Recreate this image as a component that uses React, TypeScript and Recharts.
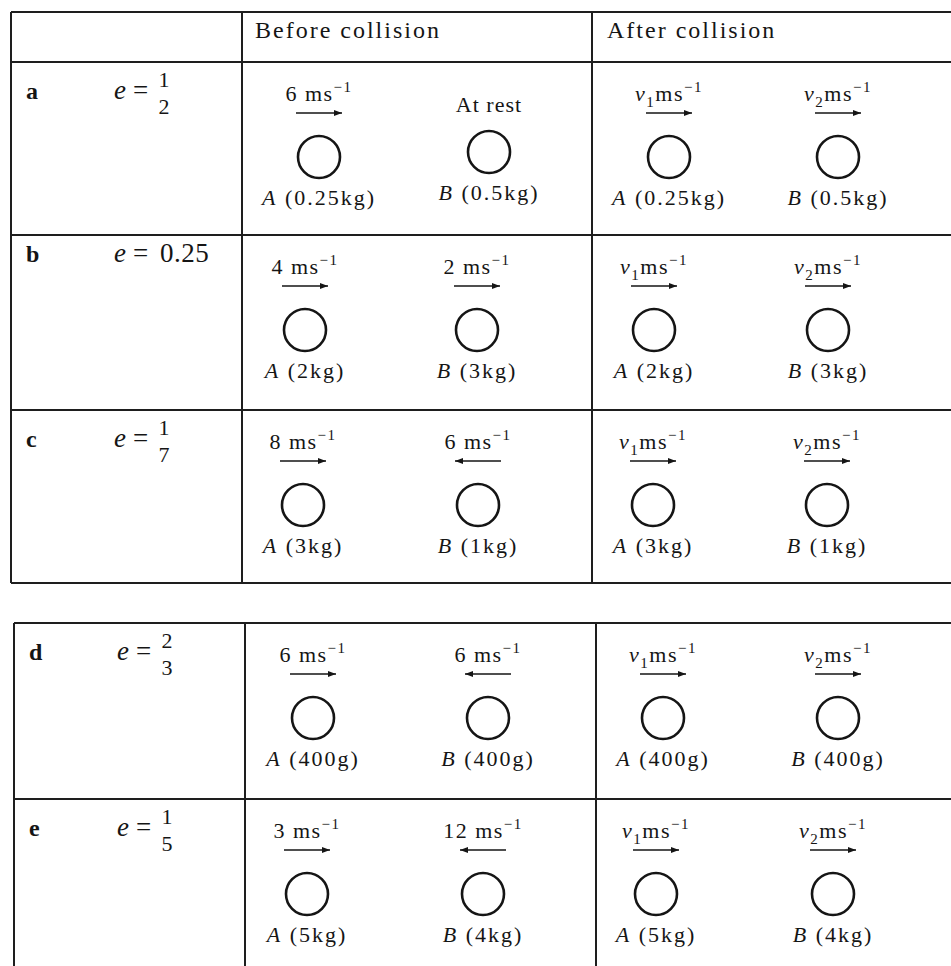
import React from 'react';
import { ScatterChart, Scatter, XAxis, YAxis, ReferenceLine } from 'recharts';

// ---------- data ----------
const ROW_LABELS = ['a', 'b', 'c', 'd', 'e'];
const E_VALUES = ['1/2', '0.25', '1/7', '2/3', '1/5'];
const SPEED_A = [6, 4, 8, 6, 3]; // m s^-1, positive = to the right
const SPEED_B = [0, 2, -6, -6, -12]; // 0 = at rest, negative = to the left
const MASS_A = ['0.25kg', '2kg', '3kg', '400g', '5kg'];
const MASS_B = ['0.5kg', '3kg', '1kg', '400g', '4kg'];
const AFTER_SPEEDS = ['1', '2']; // v1, v2 (unknown, to the right)
const HEADERS = ['Before collision', 'After collision'];

// ---------- layout ----------
const W = 951;
const H = 966;
const FONT = '"Liberation Serif", "Times New Roman", serif';
const INK = '#151515';
const ROW_TOP = [62, 235, 410, 623, 799];
const ROW_TABLE = [0, 0, 0, 1, 1];
const TABLE_LEFT = [11, 14];
const TABLE_COLS = [
  [242, 592],
  [245, 596],
];
const TABLE_TOP = [12, 623];
const TABLE_BOTTOM = [583, 966];
const TABLE_HLINES = [
  [12, 62, 235, 410, 583],
  [623, 799],
];
const BALL_X = [
  [319, 489, 669, 838],
  [305, 477, 654, 828],
  [303, 478, 653, 827],
  [313, 488, 663, 838],
  [307, 483, 656, 833],
];
const HEADER_X = [255, 607];
const HEADER_Y = 38;

// ---------- derived point sets ----------
type Ball = {
  x: number;
  y: number;
  name: string;
  mass: string;
  speed: number | null;
  sub: string | null;
};

const balls: Ball[] = [];
ROW_LABELS.forEach((_, r) => {
  const cy = ROW_TOP[r] + 95;
  balls.push({ x: BALL_X[r][0], y: cy, name: 'A', mass: MASS_A[r], speed: SPEED_A[r], sub: null });
  balls.push({ x: BALL_X[r][1], y: SPEED_B[r] === 0 ? cy - 5 : cy, name: 'B', mass: MASS_B[r], speed: SPEED_B[r], sub: null });
  balls.push({ x: BALL_X[r][2], y: cy, name: 'A', mass: MASS_A[r], speed: null, sub: AFTER_SPEEDS[0] });
  balls.push({ x: BALL_X[r][3], y: cy, name: 'B', mass: MASS_B[r], speed: null, sub: AFTER_SPEEDS[1] });
});

const rowPoints = ROW_LABELS.map((label, r) => {
  const isFrac = E_VALUES[r].includes('/');
  return {
    x: TABLE_LEFT[ROW_TABLE[r]],
    y: ROW_TOP[r] + (isFrac ? 37 : 27),
    label,
    e: E_VALUES[r],
  };
});

const headerPoints = HEADERS.map((h, i) => ({ x: HEADER_X[i], y: HEADER_Y, text: h }));

const segments: { x1: number; y1: number; x2: number; y2: number }[] = [];
[0, 1].forEach((t) => {
  TABLE_HLINES[t].forEach((y) => segments.push({ x1: TABLE_LEFT[t], y1: y, x2: W, y2: y }));
  [TABLE_LEFT[t], ...TABLE_COLS[t]].forEach((x) =>
    segments.push({ x1: x, y1: TABLE_TOP[t], x2: x, y2: TABLE_BOTTOM[t] })
  );
});

// ---------- marks ----------
const Arrow = ({ cx, y, dir }: { cx: number; y: number; dir: number }) => {
  const half = 23;
  const x1 = cx - half;
  const x2 = cx + half;
  const tip = dir > 0 ? x2 : x1;
  const back = dir > 0 ? tip - 8 : tip + 8;
  return (
    <g>
      <line x1={x1} y1={y} x2={x2} y2={y} stroke={INK} strokeWidth={1.6} />
      <polygon points={`${tip},${y} ${back},${y - 3} ${back},${y + 3}`} fill={INK} />
    </g>
  );
};

const BallMark = (props: any) => {
  const { cx, cy, payload } = props;
  if (cx == null || cy == null) return null;
  const b: Ball = payload;
  let label: React.ReactNode;
  if (b.speed === 0) {
    label = (
      <text x={cx} y={cy - 40} textAnchor="middle" fontSize={22} letterSpacing={1} fill={INK} fontFamily={FONT}>
        At rest
      </text>
    );
  } else if (b.speed != null) {
    label = (
      <text x={cx} y={cy - 56} textAnchor="middle" fontSize={22} letterSpacing={1.5} fill={INK} fontFamily={FONT}>
        {`${Math.abs(b.speed)} ms`}
        <tspan dy={-9} fontSize={15}>
          −1
        </tspan>
      </text>
    );
  } else {
    label = (
      <text x={cx} y={cy - 56} textAnchor="middle" fontSize={22} letterSpacing={1.5} fill={INK} fontFamily={FONT}>
        <tspan fontStyle="italic">v</tspan>
        <tspan dy={6} fontSize={15}>
          {b.sub}
        </tspan>
        <tspan dy={-6}>ms</tspan>
        <tspan dy={-9} fontSize={15}>
          −1
        </tspan>
      </text>
    );
  }
  const dir = b.speed == null ? 1 : b.speed;
  return (
    <g>
      {label}
      {b.speed !== 0 && <Arrow cx={cx} y={cy - 44} dir={dir} />}
      <circle cx={cx} cy={cy} r={21} fill="none" stroke={INK} strokeWidth={2.6} />
      <text x={cx} y={cy + 48} textAnchor="middle" fontSize={22} letterSpacing={2} fill={INK} fontFamily={FONT}>
        <tspan fontStyle="italic">{b.name}</tspan>
        {` (${b.mass})`}
      </text>
    </g>
  );
};

const RowMark = (props: any) => {
  const { cx, cy, payload } = props;
  if (cx == null || cy == null) return null;
  const parts = String(payload.e).split('/');
  return (
    <g fill={INK} fontFamily={FONT}>
      <text x={cx + 15} y={cy} fontSize={24} fontWeight="bold">
        {payload.label}
      </text>
      <text x={cx + 103} y={cy} fontSize={27} fontStyle="italic">
        e
      </text>
      <text x={cx + 122} y={cy} fontSize={27}>
        =
      </text>
      {parts.length === 2 ? (
        <g>
          <text x={cx + 153} y={cy - 12} fontSize={22} textAnchor="middle">
            {parts[0]}
          </text>
          <text x={cx + 153} y={cy + 15} fontSize={22} textAnchor="middle">
            {parts[1]}
          </text>
        </g>
      ) : (
        <text x={cx + 149} y={cy} fontSize={27} letterSpacing={0.5}>
          {payload.e}
        </text>
      )}
    </g>
  );
};

const HeaderMark = (props: any) => {
  const { cx, cy, payload } = props;
  if (cx == null || cy == null) return null;
  return (
    <text x={cx} y={cy} fontSize={24} letterSpacing={2} fill={INK} fontFamily={FONT}>
      {payload.text}
    </text>
  );
};

export default function App() {
  return (
    <div style={{ position: 'absolute', left: 0, top: 0, width: W, height: H, background: '#fff' }}>
      <ScatterChart width={W} height={H} margin={{ top: 0, right: 0, bottom: 0, left: 0 }}>
        <XAxis type="number" dataKey="x" domain={[0, W]} hide allowDataOverflow />
        <YAxis type="number" dataKey="y" domain={[0, H]} reversed hide allowDataOverflow />
        {segments.map((s, i) => (
          <ReferenceLine
            key={i}
            segment={[
              { x: s.x1, y: s.y1 },
              { x: s.x2, y: s.y2 },
            ]}
            stroke="#1e1e1e"
            strokeWidth={2}
            ifOverflow="visible"
          />
        ))}
        <Scatter data={headerPoints} shape={HeaderMark} isAnimationActive={false} />
        <Scatter data={rowPoints} shape={RowMark} isAnimationActive={false} />
        <Scatter data={balls} shape={BallMark} isAnimationActive={false} />
      </ScatterChart>
    </div>
  );
}
